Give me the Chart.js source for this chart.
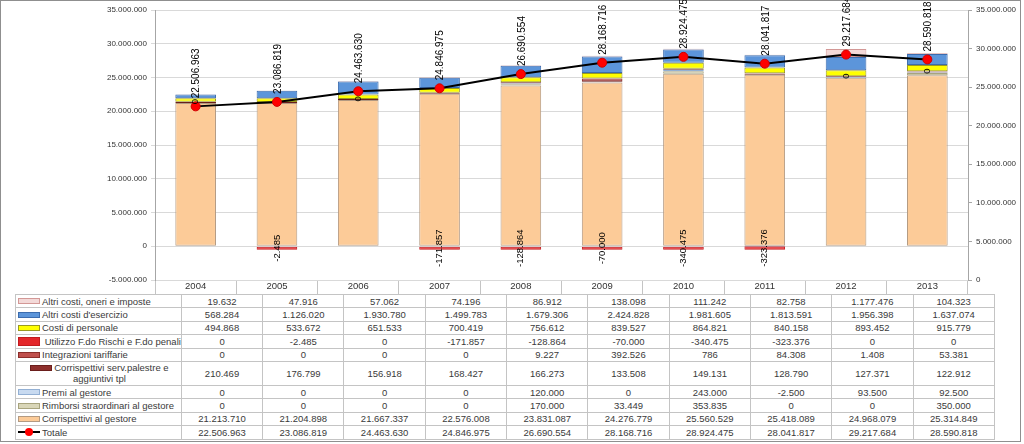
<!DOCTYPE html>
<html>
<head>
<meta charset="utf-8">
<script src="https://cdn.jsdelivr.net/npm/chart.js@4.4.1/dist/chart.umd.min.js"></script>
<style>
  body { margin: 0; background: #fff; }
  #frame { position: absolute; left: 0; top: 0; width: 1019px; height: 440px; border: 1.5px solid #8f8f8f; }
  #chart { position: absolute; left: 0; top: 0; }
  #tab {
    position: absolute; left: 15px; top: 294px;
    border-collapse: collapse; table-layout: fixed;
    font-family: "Liberation Sans Narrow", "Liberation Sans", sans-serif;
    font-size: 9.5px; color: #3a3a3a;
  }
  #tab td { border: 1px solid #c4c4c4; padding: 0; height: 12.4px; line-height: 11px; text-align: center; white-space: nowrap; overflow: hidden; }
  #tab td.name { text-align: left; padding-left: 2px; }
  #tab tr.dbl td { height: 23px; }
  #tab td.wrap { text-align: center; white-space: normal; }
  .sw { display: inline-block; width: 20px; height: 4px; border: 1px solid #888; vertical-align: middle; margin-right: 2px; margin-top: -2px; }
  .sw.big { height: 7px; }
  .tot { display: inline-block; position: relative; width: 22px; height: 10px; vertical-align: middle; margin-right: 2px; margin-top: -2px; }
  .tot:before { content: ""; position: absolute; left: 0; right: 0; top: 4px; height: 2px; background: #000; }
  .tot:after { content: ""; position: absolute; left: 7px; top: 1px; width: 8px; height: 8px; border-radius: 50%; background: #f00; }
</style>
</head>
<body>
<div id="frame"></div>
<canvas id="chart" width="1024" height="294"></canvas>
<table id="tab"></table>
<script>
// dati
const years = ['2004', '2005', '2006', '2007', '2008', '2009', '2010', '2011', '2012', '2013'];

const altriOneri     = [19632, 47916, 57062, 74196, 86912, 138098, 111242, 82758, 1177476, 104323];
const altriEsercizio = [568284, 1126020, 1930780, 1499783, 1679306, 2424828, 1981605, 1813591, 1956398, 1637074];
const personale      = [494868, 533672, 651533, 700419, 756612, 839527, 864821, 840158, 893452, 915779];
const utilizzo       = [0, -2485, 0, -171857, -128864, -70000, -340475, -323376, 0, 0];
const integrazioni   = [0, 0, 0, 0, 9227, 392526, 786, 84308, 1408, 53381];
const corrServ       = [210469, 176799, 156918, 168427, 166273, 133508, 149131, 128790, 127371, 122912];
const premi          = [0, 0, 0, 0, 120000, 0, 243000, -2500, 93500, 92500];
const rimborsi       = [0, 0, 0, 0, 170000, 33449, 353835, 0, 0, 350000];
const corrGestore    = [21213710, 21204898, 21667337, 22576008, 23831087, 24276779, 25560529, 25418089, 24968079, 25314849];
const totale         = [22506963, 23086819, 24463630, 24846975, 26690554, 28168716, 28924475, 28041817, 29217684, 28590818];

const FONT = '"Liberation Sans Narrow", "Liberation Sans", sans-serif';

function fmt(v) {
    const s = Math.abs(Math.round(v)).toString().replace(/\B(?=(\d{3})+(?!\d))/g, '.');
    return (v < 0 ? '-' : '') + s;
}

// ordine di impilamento: dal basso verso l'alto
const series = [
    { label: 'Corrispettivi al gestore', data: corrGestore, color: '#FCCB98', border: '#B39A82' },
    { label: 'Rimborsi straordinari al gestore', data: rimborsi, color: '#D9D6B8', border: '#A8A47E' },
    { label: 'Premi al gestore', data: premi, color: '#C8DAF0', border: '#93B0D4' },
    { label: 'Corrispettivi serv.palestre e aggiuntivi tpl', data: corrServ, color: '#8E2F2C', border: '#6A1E1C' },
    { label: 'Integrazioni tariffarie', data: integrazioni, color: '#C0504D', border: '#8C2E2B' },
    { label: 'Utilizzo F.do Rischi e F.do penali', data: utilizzo, color: '#E3262A', border: '#C21A1E' },
    { label: 'Costi di personale', data: personale, color: '#FFFF00', border: '#9A9A20' },
    { label: "Altri costi d'esercizio", data: altriEsercizio, color: '#5C95DA', border: '#3C6CAE' },
    { label: 'Altri costi, oneri e imposte', data: altriOneri, color: '#F3D9D8', border: '#D39896' },
];

const UTIL_IDX = 5;
const PERS_IDX = 6;

const datasets = series.map((s, k) => ({
    type: 'bar',
    label: s.label,
    // gli zeri di Utilizzo non si disegnano (resta solo l'etichetta "0")
    data: k === UTIL_IDX ? s.data.map(v => (v === 0 ? null : v)) : s.data,
    backgroundColor: s.color,
    borderColor: s.border,
    borderWidth: 1,
    borderSkipped: false,
    minBarLength: k === UTIL_IDX ? 3.5 : 0,
    barPercentage: 0.5,
    categoryPercentage: 1,
    stack: 'costi',
    order: 1,
}));

datasets.push({
    type: 'line',
    label: 'Totale',
    data: totale,
    yAxisID: 'y1',
    stack: 'tot',
    borderColor: '#000',
    borderWidth: 2,
    pointRadius: 4.5,
    pointBackgroundColor: '#ff0000',
    pointBorderColor: '#d00000',
    pointBorderWidth: 1,
    tension: 0,
    order: 0,
});

const TOT_IDX = datasets.length - 1;

// etichette ruotate (Utilizzo al centro, Totale sopra il punto)
const rotatedLabels = {
    id: 'rotatedLabels',
    afterDatasetsDraw(chart) {
        const ctx = chart.ctx;
        ctx.save();
        ctx.fillStyle = '#000';
        ctx.textBaseline = 'middle';

        ctx.font = '9.5px ' + FONT;
        ctx.textAlign = 'center';
        const utilEls = chart.getDatasetMeta(UTIL_IDX).data;
        const persEls = chart.getDatasetMeta(PERS_IDX).data;
        utilizzo.forEach((v, i) => {
            const el = utilEls[i];
            const y = v === 0 ? persEls[i].base : (el.y + el.base) / 2;
            ctx.save();
            ctx.translate(persEls[i].x, y);
            ctx.rotate(-Math.PI / 2);
            ctx.fillText(fmt(v), 0, 0);
            ctx.restore();
        });

        ctx.font = '10px ' + FONT;
        ctx.textAlign = 'left';
        chart.getDatasetMeta(TOT_IDX).data.forEach((el, i) => {
            ctx.save();
            ctx.translate(el.x + 1, el.y - 8);
            ctx.rotate(-Math.PI / 2);
            ctx.fillText(fmt(totale[i]), 0, 0);
            ctx.restore();
        });
        ctx.restore();
    }
};

new Chart(document.getElementById('chart'), {
    data: { labels: years, datasets: datasets },
    options: {
        responsive: false,
        animation: false,
        layout: { padding: { top: 10, left: 0, right: 0, bottom: 0 } },
        plugins: {
            legend: { display: false },
            tooltip: { enabled: false },
        },
        scales: {
            x: {
                stacked: true,
                offset: true,
                grid: { offset: true, drawOnChartArea: false, drawTicks: true, tickLength: 14, color: '#c4c4c4' },
                border: { display: false },
                ticks: { padding: -13, maxRotation: 0, autoSkip: false, color: '#333', font: { family: FONT, size: 9.5 } },
                afterFit(scale) { scale.height = 14; },
            },
            y: {
                stacked: true,
                min: -5000000,
                max: 35000000,
                ticks: { stepSize: 5000000, color: '#333', padding: 4, font: { family: FONT, size: 8 }, callback: v => fmt(v) },
                grid: { color: '#d9d9d9', tickLength: 4 },
                border: { color: '#a6a6a6' },
                afterFit(scale) { scale.width = 155; },
            },
            y1: {
                position: 'right',
                min: 0,
                max: 35000000,
                ticks: { stepSize: 5000000, color: '#333', padding: 4, font: { family: FONT, size: 8 }, callback: v => fmt(v) },
                grid: { drawOnChartArea: false, tickLength: 4, color: '#a6a6a6' },
                border: { color: '#a6a6a6' },
                afterFit(scale) { scale.width = 56; },
            },
        },
    },
    plugins: [rotatedLabels],
});

// tabella dati sotto il grafico
const tab = document.getElementById('tab');
let html = '<colgroup><col style="width:140px">' + years.map(() => '<col style="width:81.3px">').join('') + '</colgroup>';
series.slice().reverse().forEach(s => {
    const isWrap = s.data === corrServ;
    const big = s.data === utilizzo;
    const name = isWrap ? 'Corrispettivi serv.palestre e<br>aggiuntivi tpl' : (big ? '&nbsp;' + s.label : s.label);
    html += '<tr' + (isWrap ? ' class="dbl"' : '') + '><td class="name' + (isWrap ? ' wrap' : '') + '">' +
        '<span class="sw' + (big ? ' big' : '') + '" style="background:' + s.color + ';border-color:' + s.border + '"></span>' +
        name + '</td>' + s.data.map(v => '<td>' + fmt(v) + '</td>').join('') + '</tr>';
});
html += '<tr><td class="name"><span class="tot"></span>Totale</td>' + totale.map(v => '<td>' + fmt(v) + '</td>').join('') + '</tr>';
tab.innerHTML = html;
</script>
</body>
</html>
